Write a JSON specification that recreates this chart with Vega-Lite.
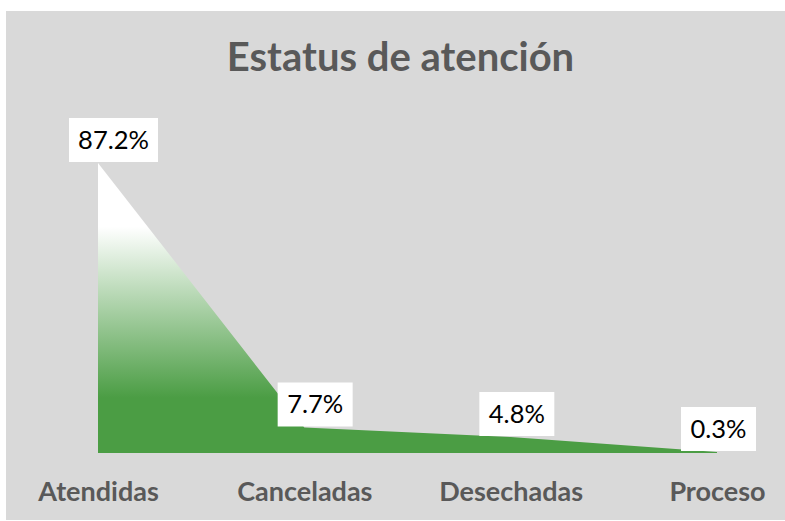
{
  "$schema": "https://vega.github.io/schema/vega-lite/v6.json",
  "autosize": {"type": "none"},
  "width": 779,
  "height": 509,
  "padding": {"left": 6, "top": 11, "right": 0, "bottom": 1},
  "background": "#ffffff",
  "view": {"fill": "#d9d9d9", "stroke": null},
  "title": {
    "text": "Estatus de atención",
    "font": "Lato",
    "fontSize": 40,
    "fontWeight": "bold",
    "color": "#595959",
    "anchor": "middle",
    "frame": "group",
    "baseline": "alphabetic",
    "offset": 0,
    "dy": 100,
    "dx": 5
  },
  "data": {
    "values": [
      {"cat": "Atendidas", "v": 87.2, "label": "87.2%"},
      {"cat": "Canceladas", "v": 7.7, "label": "7.7%"},
      {"cat": "Desechadas", "v": 4.8, "label": "4.8%"},
      {"cat": "Proceso", "v": 0.3, "label": "0.3%"}
    ]
  },
  "encoding": {
    "x": {
      "field": "cat",
      "type": "nominal",
      "scale": {"type": "point", "padding": 0, "domain": ["Atendidas", "Canceladas", "Desechadas", "Proceso"], "range": [92, 711]},
      "axis": {
        "title": null,
        "orient": "bottom",
        "offset": -20,
        "domain": false,
        "ticks": false,
        "tickSize": 0,
        "grid": false,
        "labelPadding": 0,
        "labelBaseline": "alphabetic",
        "labelAngle": 0,
        "labelFont": "Lato",
        "labelFontSize": 27,
        "labelFontWeight": "bold",
        "labelColor": "#595959"
      }
    },
    "y": {
      "field": "v",
      "type": "quantitative",
      "scale": {"domain": [0, 100], "range": [442, 109.4], "nice": false, "zero": true},
      "axis": null
    }
  },
  "layer": [
    {
      "mark": {
        "type": "area",
        "interpolate": "linear",
        "color": {
          "gradient": "linear",
          "x1": 0, "y1": 0, "x2": 0, "y2": 1,
          "stops": [
            {"offset": 0, "color": "#ffffff"},
            {"offset": 0.22, "color": "#ffffff"},
            {"offset": 0.81, "color": "#4b9d44"},
            {"offset": 1, "color": "#4b9d44"}
          ]
        }
      }
    },
    {
      "mark": {"type": "point", "filled": true, "color": "#ffffff", "opacity": 1, "strokeWidth": 0, "yOffset": -23},
      "encoding": {
        "xOffset": {"field": "cat", "type": "nominal", "scale": {"type": "point", "padding": 0, "domain": ["Atendidas", "Canceladas", "Desechadas", "Proceso"], "range": [15.5, 1.5]}},
        "shape": {
          "condition": {"test": "datum.v >= 10", "value": "M-1,-0.494L1,-0.494L1,0.494L-1,0.494Z"},
          "value": "M-1,-0.587L1,-0.587L1,0.587L-1,0.587Z"
        },
        "size": {
          "condition": {"test": "datum.v >= 10", "value": 7921},
          "value": 5625
        }
      }
    },
    {
      "mark": {"type": "text", "font": "Lato", "fontSize": 25.5, "color": "#000000", "align": "center", "baseline": "middle", "dy": -22},
      "encoding": {
        "xOffset": {"field": "cat", "type": "nominal", "scale": {"type": "point", "padding": 0, "domain": ["Atendidas", "Canceladas", "Desechadas", "Proceso"], "range": [15.5, 1.5]}},
        "text": {"field": "label", "type": "nominal"}
      }
    }
  ]
}
